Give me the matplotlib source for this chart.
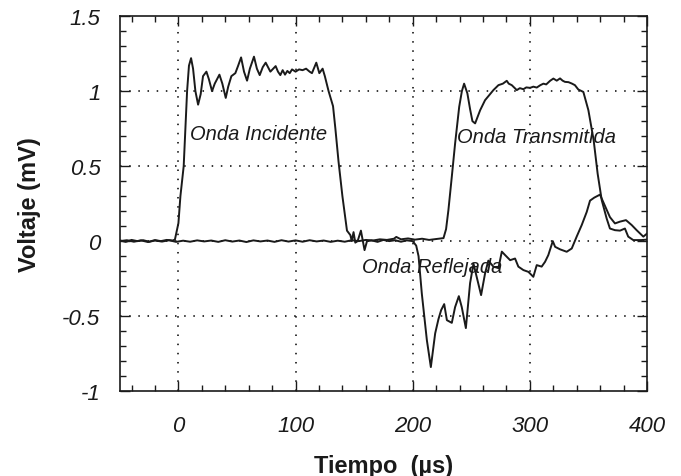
import matplotlib
matplotlib.use('Agg')
import matplotlib.pyplot as plt
from matplotlib.ticker import MultipleLocator

plt.rcParams['font.family'] = ['Liberation Sans', 'DejaVu Sans']

# Traza 1: onda incidente + onda reflejada (tiempo en us, voltaje en mV)
t_incidente = [-50, -45, -40, -35, -30, -25, -20, -15, -10, -5, -3,
               0, 1.7, 4.5, 7.4, 9, 10.8, 12.5, 14.5, 16.8, 19, 21, 23.9, 26, 28.7,
               31, 35, 37.5, 40.4, 42.5, 45.2, 48.6, 51, 53.5, 56, 58.6, 61, 64.5,
               67, 69.4, 72, 74.5, 78.5, 81, 83, 85, 87, 89, 91, 93, 95, 97, 100,
               103, 106, 109, 112, 114, 117.7, 120.3, 123.1, 125, 128.2, 132, 134,
               136.7, 140, 143.9, 146.8, 148, 149.5, 151, 153, 155.8, 158.9, 161,
               165, 170, 175, 180, 185, 190, 195, 200, 203, 205, 207.8, 212.1,
               215.5, 219.2, 222, 224.3, 226.9, 229.2, 233.4, 236.2, 239.4, 241.9,
               245.4, 249, 251.9, 254.7, 258.4, 261.8, 264.6, 268.9, 273.2, 276.1,
               278.9, 283.2, 287.4, 290.2, 294.5, 298.8, 303, 305.9, 310.1, 313,
               315.8, 319.6, 321.6, 325.9, 331.5, 335.8, 340, 344.3, 348.6, 351.4,
               355, 359.9, 362.7, 368.4, 372.7, 377, 382.1, 387, 391.2, 396.9, 400]
v_incidente = [0.005, -0.005, 0.008, 0.0, 0.006, -0.004, 0.007, 0.0, 0.008, 0.004, 0.01,
               0.12, 0.3, 0.5, 1.0, 1.17, 1.22, 1.15, 1.0, 0.91, 0.98, 1.1, 1.13, 1.08, 1.0,
               1.05, 1.11, 1.05, 0.955, 1.03, 1.10, 1.12, 1.17, 1.225, 1.13, 1.07, 1.15, 1.23,
               1.15, 1.107, 1.16, 1.19, 1.13, 1.15, 1.167, 1.13, 1.107, 1.14, 1.11, 1.135, 1.12, 1.145, 1.13,
               1.145, 1.14, 1.15, 1.13, 1.12, 1.19, 1.12, 1.15, 1.1, 1.0, 0.9, 0.75,
               0.53, 0.3, 0.07, 0.04, 0.0, 0.06, -0.01, 0.0, 0.07, -0.06, 0.0,
               0.005, -0.005, 0.008, 0.0, 0.006, -0.004, 0.005, 0.0, -0.03, -0.10, -0.35, -0.66,
               -0.84, -0.615, -0.52, -0.46, -0.42, -0.527, -0.545, -0.44, -0.367, -0.44,
               -0.58, -0.28, -0.15, -0.24, -0.36, -0.215, -0.13, -0.17, -0.18, -0.07,
               -0.093, -0.127, -0.116, -0.17, -0.193, -0.205, -0.238, -0.16, -0.17, -0.138,
               -0.093, 0.0, -0.038, -0.055, -0.071, -0.049, 0.03, 0.107, 0.195, 0.27,
               0.29, 0.31, 0.26, 0.16, 0.118, 0.13, 0.14, 0.107, 0.073, 0.03, 0.05]

# Traza 2: onda transmitida
t_transmitida = [-50, -44, -38, -32, -26, -20, -14, -8, -2, 4, 10, 16, 22, 28, 34, 40,
                 46, 52, 58, 64, 70, 76, 82, 88, 94, 100, 106, 112, 118, 124, 130,
                 136, 142, 148, 154, 160, 166, 172, 178, 184, 186, 190, 196, 202,
                 208, 214, 220, 226.3, 228.5, 230.5, 233.4, 236.2, 239.7, 242, 243.9,
                 246.7, 249, 251, 253.3, 255.5, 257.6, 261.8, 265, 268.9, 273.2, 277,
                 280.3, 282, 284.6, 288.9, 291.5, 294.5, 297, 300.2, 303, 305.9, 309,
                 311.6, 314, 317.3, 320.1, 323, 325.8, 328, 330, 333, 335.8, 338.5,
                 341.4, 345.7, 350, 354.5, 357.9, 361.4, 365.6, 368.4, 372.7, 377,
                 381.2, 384, 388.3, 395, 400]
v_transmitida = [0.0, 0.006, -0.004, 0.005, -0.006, 0.004, -0.003, 0.006, -0.005, 0.003,
                 -0.004, 0.005, -0.002, 0.004, -0.005, 0.006, -0.003, 0.004, -0.006, 0.005,
                 -0.002, 0.004, -0.005, 0.006, -0.003, 0.005, -0.004, 0.006, -0.002, 0.004,
                 -0.005, 0.003, -0.004, 0.006, 0.0, 0.008, 0.004, 0.012, 0.008, 0.016,
                 0.028, 0.012, 0.018, 0.01, 0.016, 0.008, 0.014, 0.02, 0.08, 0.207, 0.43,
                 0.65, 0.895, 1.0, 1.05, 0.985, 0.88, 0.80, 0.785, 0.83, 0.873, 0.94, 0.97,
                 1.007, 1.04, 1.05, 1.069, 1.05, 1.04, 1.007, 1.02, 1.013, 1.025, 1.022,
                 1.03, 1.024, 1.04, 1.05, 1.045, 1.069, 1.084, 1.07, 1.085, 1.07, 1.062,
                 1.06, 1.051, 1.04, 1.011, 0.995, 0.873, 0.673, 0.45, 0.273, 0.151, 0.084,
                 0.073, 0.07, 0.084, 0.03, 0.007, 0.007, 0.01]

x_ticks = [0, 100, 200, 300, 400]
y_ticks = [-1, -0.5, 0, 0.5, 1, 1.5]
y_tick_labels = ['-1', '-0.5', '0', '0.5', '1', '1.5']

fig = plt.figure(figsize=(6.81, 4.77), dpi=100)
ax = fig.add_axes([0.176, 0.178, 0.774, 0.786])

ax.plot(t_incidente, v_incidente, color='#1a1a1a', lw=1.4)
ax.plot(t_transmitida, v_transmitida, color='#1a1a1a', lw=1.4)

ax.set_xlim(-50, 400)
ax.set_ylim(-1, 1.5)
ax.set_xticks(x_ticks)
ax.set_yticks(y_ticks)
ax.set_yticklabels(y_tick_labels)
ax.xaxis.set_minor_locator(MultipleLocator(20))
ax.yaxis.set_minor_locator(MultipleLocator(0.1))
ax.tick_params(which='both', direction='in', top=True, right=True,
               labelsize=16, width=1, color='#1a1a1a', labelcolor='#1a1a1a')
ax.tick_params(axis='x', pad=17)
ax.tick_params(axis='y', pad=14)
ax.tick_params(which='major', length=7)
ax.tick_params(which='minor', length=4)
for lab in ax.get_xticklabels() + ax.get_yticklabels():
    lab.set_fontstyle('italic')

# rejilla punteada solo en los valores interiores
for xv in [0, 100, 200, 300]:
    ax.axvline(xv, color='black', lw=1.1, ls=(0, (1, 5)), zorder=0)
for yv in [-0.5, 0, 0.5, 1]:
    ax.axhline(yv, color='black', lw=1.1, ls=(0, (1, 5)), zorder=0)

for s in ax.spines.values():
    s.set_linewidth(1.2)
    s.set_color('#1a1a1a')

ax.set_xlabel('Tiempo  (µs)', fontsize=17, fontweight='bold', labelpad=13, color='#1a1a1a')
ax.set_ylabel('Voltaje (mV)', fontsize=17, fontweight='bold', labelpad=15, color='#1a1a1a')

ax.text(10, 0.72, 'Onda Incidente', fontsize=14.5, style='italic', va='center', color='#1a1a1a')
ax.text(238, 0.70, 'Onda Transmitida', fontsize=14.5, style='italic', va='center', color='#1a1a1a')
ax.text(157, -0.17, 'Onda Reflejada', fontsize=14.5, style='italic', va='center', color='#1a1a1a')

fig.savefig('out.png', dpi=100)
